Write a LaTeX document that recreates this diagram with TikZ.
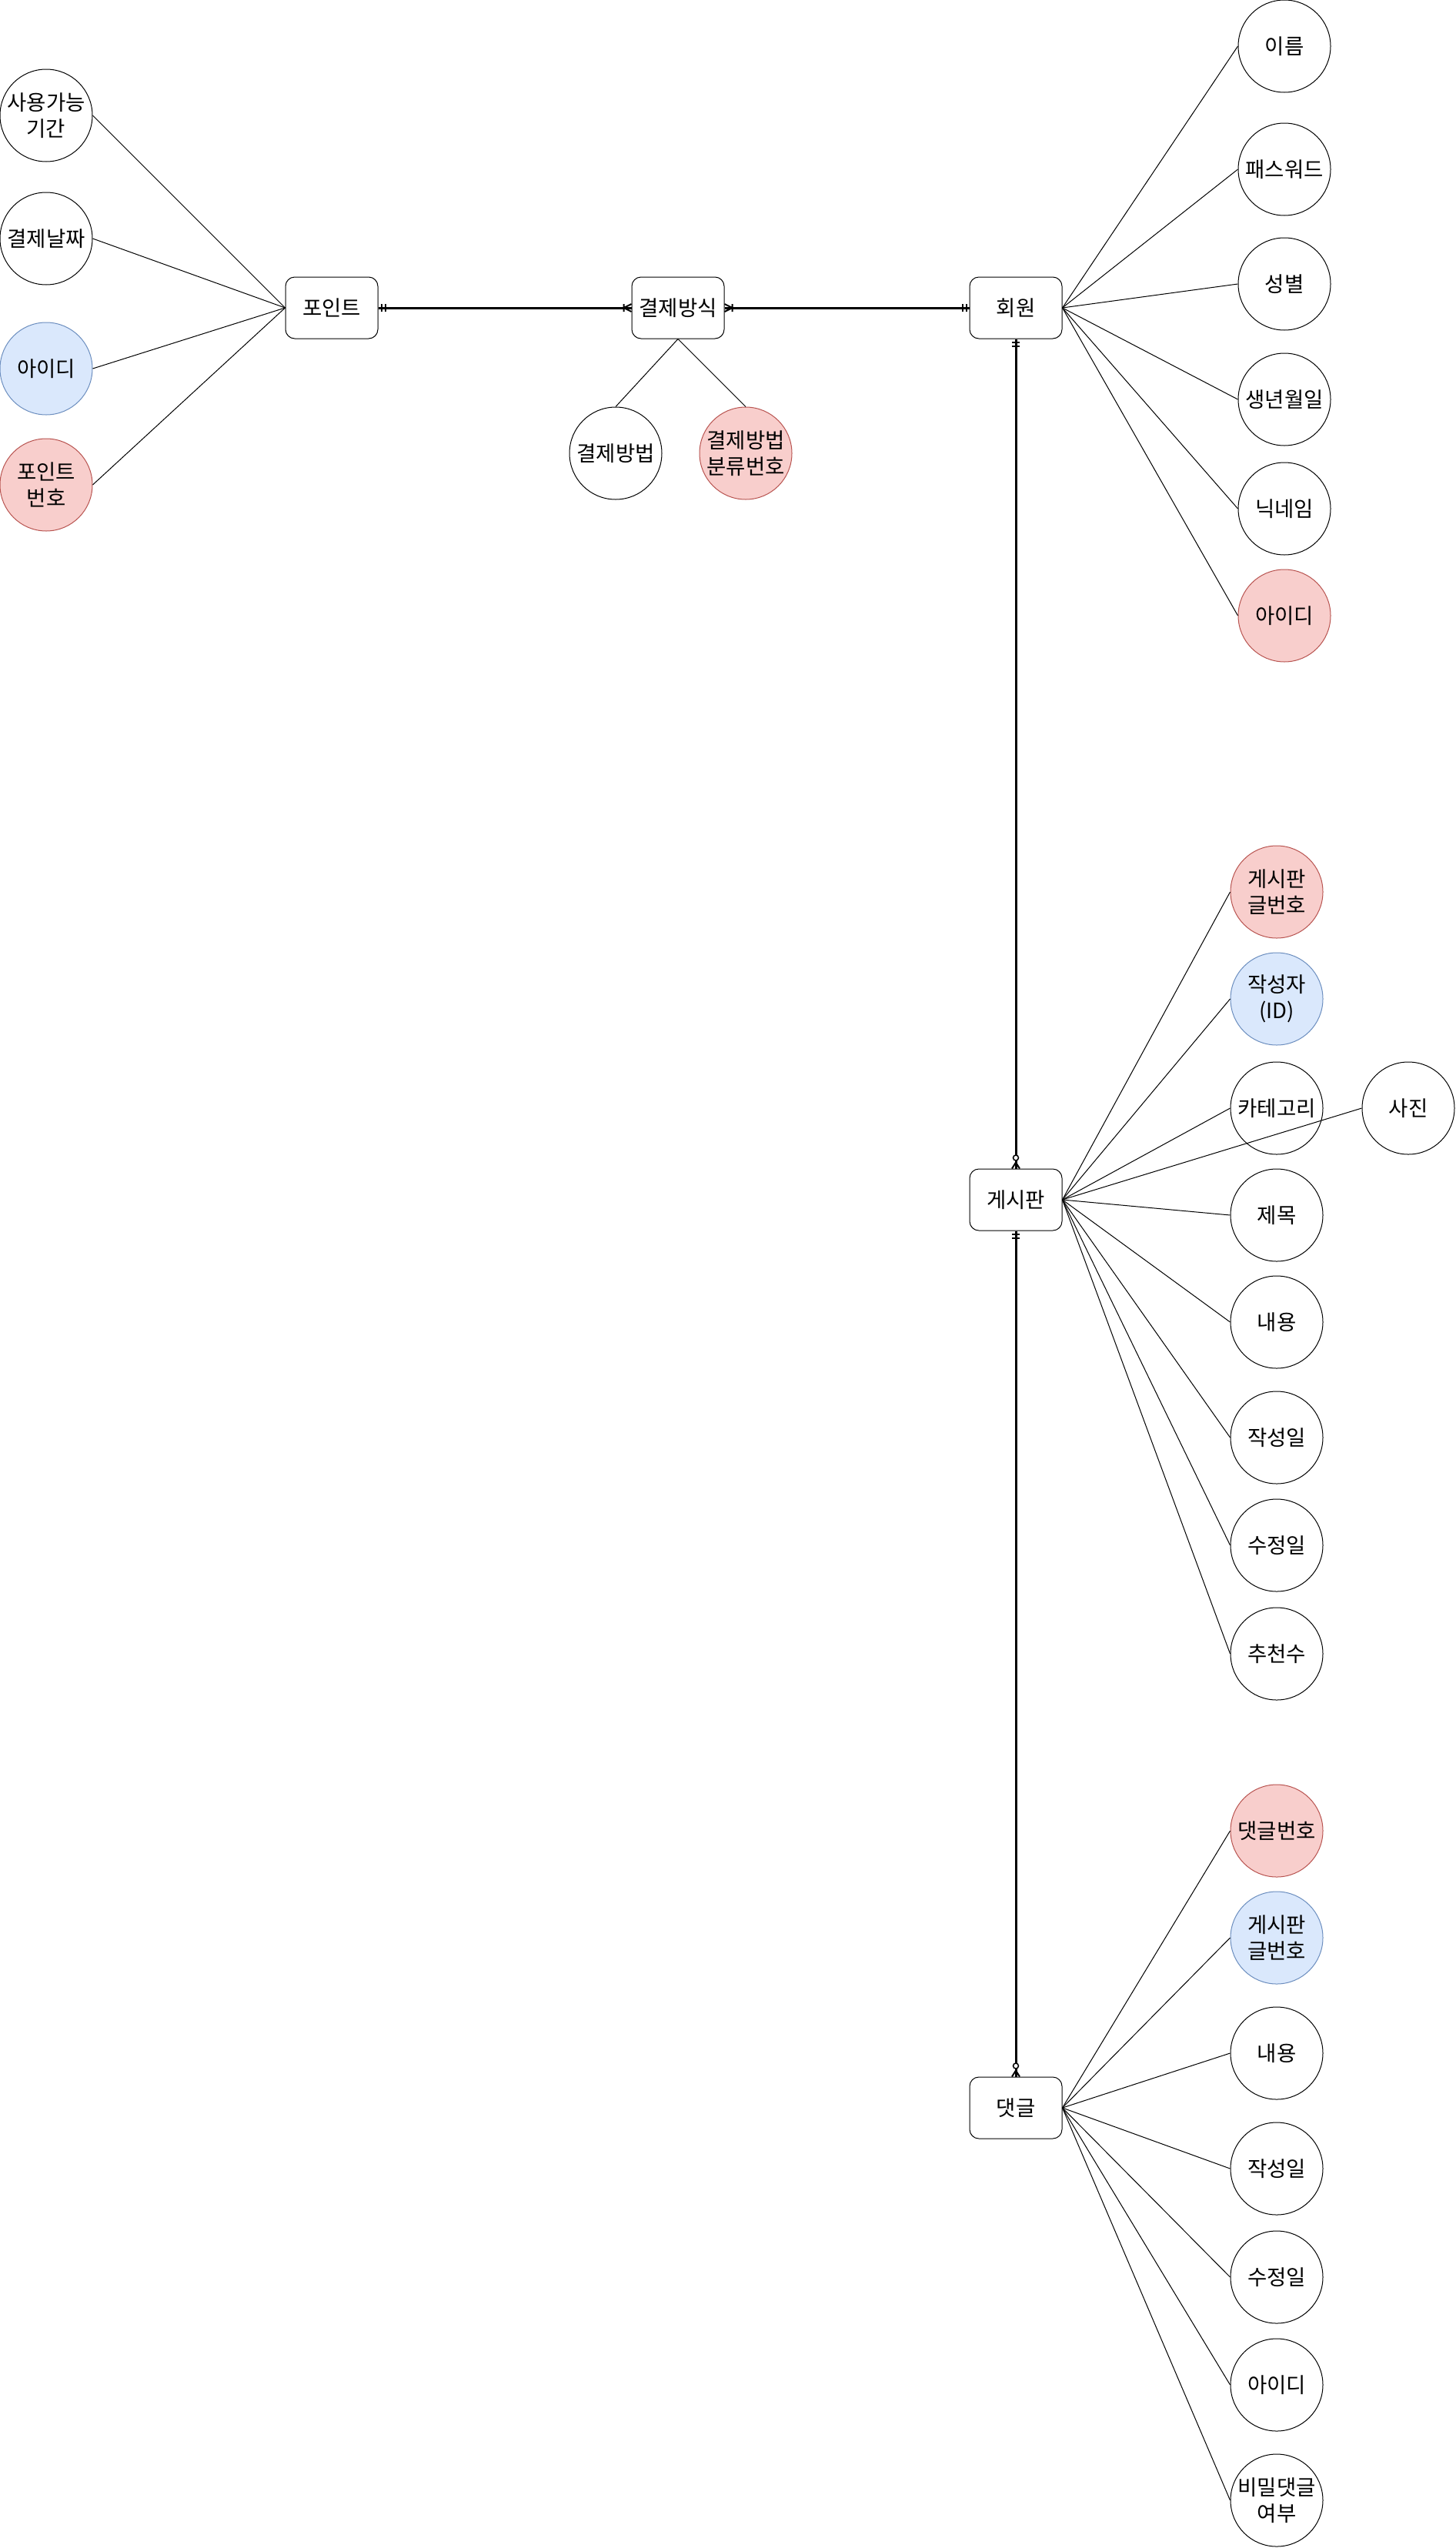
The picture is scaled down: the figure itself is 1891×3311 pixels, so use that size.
\documentclass[tikz,border=0pt]{standalone}
\usepackage{fontspec}
\setmainfont{Noto Sans CJK KR}
\definecolor{pkfill}{HTML}{F8CECC}
\definecolor{pkdraw}{HTML}{B85450}
\definecolor{fkfill}{HTML}{DAE8FC}
\definecolor{fkdraw}{HTML}{6C8EBF}
\tikzset{
  attr/.style={circle, draw=black, line width=1pt, fill=white, minimum size=120pt, inner sep=0pt, align=center, font=\fontsize{27.5}{34}\selectfont},
  pk/.style={attr, fill=pkfill, draw=pkdraw},
  fk/.style={attr, fill=fkfill, draw=fkdraw},
  ent/.style={rectangle, rounded corners=12pt, draw=black, line width=1pt, fill=white, minimum width=120pt, minimum height=80pt, inner sep=0pt, font=\fontsize{27.5}{34}\selectfont},
  rel/.style={line width=3pt},
  aline/.style={line width=1pt},
  mandone/.pic={\draw[line width=2pt] (4,-5)--(4,5) (9,-5)--(9,5);},
  onemany/.pic={\draw[line width=2pt] (0,5)--(10,0)--(0,-5) (10,-5)--(10,5);},
  zeromany/.pic={\draw[line width=2pt] (0,5)--(8,0)--(0,-5); \draw[line width=1.5pt, fill=white] (14,0) circle (3.5);}
}
\begin{document}
\begin{tikzpicture}[x=1pt, y=-1pt]
\useasboundingbox[fill=white] (0,0) rectangle (1891,3311);
% entities
\node[ent] (point) at (431,400) {포인트};
\node[ent] (pay) at (881,400) {결제방식};
\node[ent] (mem) at (1320,400) {회원};
\node[ent] (board) at (1320,1559) {게시판};
\node[ent] (cmt) at (1320,2739) {댓글};
% point attributes
\node[attr] (p1) at (60,150) {사용가능\\기간};
\node[attr] (p2) at (60,310) {결제날짜};
\node[fk] (p3) at (60,479) {아이디};
\node[pk] (p4) at (60,630) {포인트\\번호};
% payment attributes
\node[attr] (y1) at (800,589) {결제방법};
\node[pk] (y2) at (969,589) {결제방법\\분류번호};
% member attributes
\node[attr] (m1) at (1669,60) {이름};
\node[attr] (m2) at (1669,220) {패스워드};
\node[attr] (m3) at (1669,369) {성별};
\node[attr] (m4) at (1669,519) {생년월일};
\node[attr] (m5) at (1669,661) {닉네임};
\node[pk] (m6) at (1669,800) {아이디};
% board attributes
\node[pk] (b1) at (1659,1159) {게시판\\글번호};
\node[fk] (b2) at (1659,1298) {작성자\\(ID)};
\node[attr] (b3) at (1659,1440) {카테고리};
\node[attr] (b4) at (1830,1440) {사진};
\node[attr] (b5) at (1659,1579) {제목};
\node[attr] (b6) at (1659,1718) {내용};
\node[attr] (b7) at (1659,1868) {작성일};
\node[attr] (b8) at (1659,2008) {수정일};
\node[attr] (b9) at (1659,2149) {추천수};
% comment attributes
\node[pk] (c1) at (1659,2379) {댓글번호};
\node[fk] (c2) at (1659,2518) {게시판\\글번호};
\node[attr] (c3) at (1659,2668) {내용};
\node[attr] (c4) at (1659,2818) {작성일};
\node[attr] (c5) at (1659,2959) {수정일};
\node[attr] (c6) at (1659,3099) {아이디};
\node[attr] (c7) at (1659,3249) {비밀댓글\\여부};
% attribute lines
\foreach \a in {p1,p2,p3,p4} \draw[aline] (point.west) -- (\a.east);
\foreach \a in {y1,y2} \draw[aline] (pay.south) -- (\a.north);
\foreach \a in {m1,m2,m3,m4,m5,m6} \draw[aline] (mem.east) -- (\a.west);
\foreach \a in {b1,b2,b3,b4,b5,b6,b7,b8,b9} \draw[aline] (board.east) -- (\a.west);
\foreach \a in {c1,c2,c3,c4,c5,c6,c7} \draw[aline] (cmt.east) -- (\a.west);
% relationships
\draw[rel] (point.east) -- (pay.west);
\path (point.east) pic{mandone};
\path (pay.west) pic[rotate=180]{onemany};
\draw[rel] (pay.east) -- (mem.west);
\path (pay.east) pic{onemany};
\path (mem.west) pic[rotate=180]{mandone};
\draw[rel] (mem.south) -- (board.north);
\path (mem.south) pic[rotate=-90]{mandone};
\path (board.north) pic[rotate=90]{zeromany};
\draw[rel] (board.south) -- (cmt.north);
\path (board.south) pic[rotate=-90]{mandone};
\path (cmt.north) pic[rotate=90]{zeromany};
\end{tikzpicture}
\end{document}
